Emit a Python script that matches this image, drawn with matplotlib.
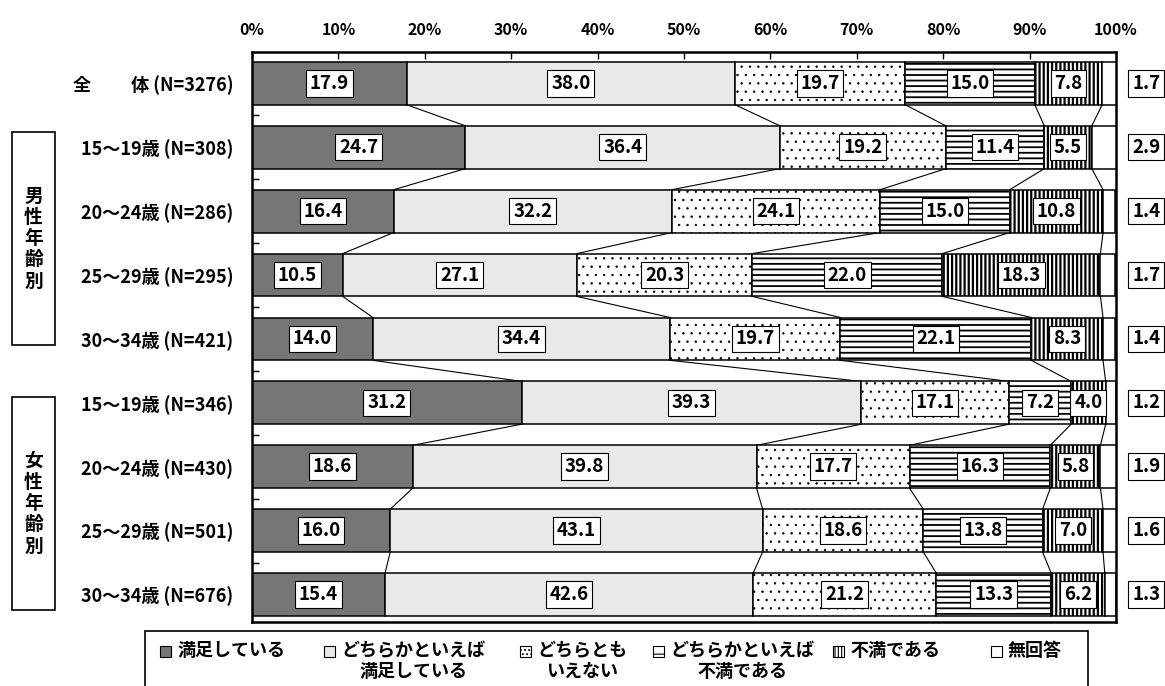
import matplotlib
matplotlib.use("Agg")
import matplotlib.pyplot as plt
from matplotlib.patches import Rectangle
import numpy as np

plt.rcParams['font.family'] = ['Noto Sans CJK JP', 'DejaVu Sans']
plt.rcParams['font.weight'] = 'bold'
plt.rcParams['hatch.linewidth'] = 1.2

# Survey groups (top to bottom)
groups = [
    "全　　 体 (N=3276)",
    "15～19歳 (N=308)",
    "20～24歳 (N=286)",
    "25～29歳 (N=295)",
    "30～34歳 (N=421)",
    "15～19歳 (N=346)",
    "20～24歳 (N=430)",
    "25～29歳 (N=501)",
    "30～34歳 (N=676)",
]

answers = ["満足している", "どちらかといえば\n満足している", "どちらとも\nいえない",
           "どちらかといえば\n不満である", "不満である", "無回答"]

satisfied        = [17.9, 24.7, 16.4, 10.5, 14.0, 31.2, 18.6, 16.0, 15.4]
rather_satisfied = [38.0, 36.4, 32.2, 27.1, 34.4, 39.3, 39.8, 43.1, 42.6]
neutral          = [19.7, 19.2, 24.1, 20.3, 19.7, 17.1, 17.7, 18.6, 21.2]
rather_unsat     = [15.0, 11.4, 15.0, 22.0, 22.1, 7.2, 16.3, 13.8, 13.3]
unsatisfied      = [7.8, 5.5, 10.8, 18.3, 8.3, 4.0, 5.8, 7.0, 6.2]
no_answer        = [1.7, 2.9, 1.4, 1.7, 1.4, 1.2, 1.9, 1.6, 1.3]

xticks = [0, 10, 20, 30, 40, 50, 60, 70, 80, 90, 100]
xtick_labels = [f"{v}%" for v in xticks]

series = [satisfied, rather_satisfied, neutral, rather_unsat, unsatisfied, no_answer]
faces = ["#767676", "#e9e9e9", "white", "white", "white", "white"]
hatches = [None, None, "..", "---", "||||", None]
hatch_lw = [1.2, 1.2, 0.5, 1.3, 1.6, 1.2]
marker_hatches = [None, None, "....", "--", "|||||", None]

W, H = 1165, 686
fig = plt.figure(figsize=(W / 100, H / 100), dpi=100)


def fx(px):
    return px / W


def fy(py):
    return 1 - py / H


ax = fig.add_axes([fx(252), fy(622), fx(1116) - fx(252), fy(52) - fy(622)])

n = len(groups)
ypos = np.arange(n)
bar_h = 0.67
label_box = dict(boxstyle="square,pad=0.2", fc="white", ec="black", lw=0.8)

left = np.zeros(n)
bounds = []
for k, (vals, fc, ht, hlw) in enumerate(zip(series, faces, hatches, hatch_lw)):
    vals = np.array(vals)
    with plt.rc_context({'hatch.linewidth': hlw}):
        bars = ax.barh(ypos, vals, left=left, height=bar_h, color=fc, edgecolor="black",
                       linewidth=1.1, hatch=ht, zorder=2)
    for b in bars:
        if hasattr(b, "set_hatch_linewidth"):
            b.set_hatch_linewidth(hlw)
    for i in range(n):
        if k < 5:
            ax.text(left[i] + vals[i] / 2, ypos[i], f"{vals[i]:.1f}", ha="center",
                    va="center", fontsize=13.5, fontweight="bold", zorder=5, bbox=label_box)
        else:
            ax.text(103.5, ypos[i], f"{vals[i]:.1f}", ha="center", va="center",
                    fontsize=13.5, fontweight="bold", zorder=5, clip_on=False, bbox=label_box)
    left = left + vals
    bounds.append(left.copy())

# series lines joining the segment boundaries of neighbouring bars
for b in bounds[:5]:
    for i in range(n - 1):
        ax.plot([b[i], b[i + 1]], [ypos[i] + bar_h / 2, ypos[i + 1] - bar_h / 2],
                color="black", lw=0.8, zorder=1)

ax.set_xlim(0, 100)
ax.set_ylim(n - 1 + 0.43, -0.49)
ax.xaxis.set_ticks_position("top")
ax.set_xticks(xticks)
ax.set_xticklabels(xtick_labels, fontsize=11.5, fontweight="bold")
ax.tick_params(axis="x", direction="in", length=5, width=1, pad=10)
ax.set_yticks(ypos)
ax.set_yticklabels(groups, fontsize=13, fontweight="bold")
ax.tick_params(axis="y", which="major", length=0, pad=13.5)
ax.set_yticks(ypos[:-1] + 0.5, minor=True)
ax.tick_params(axis="y", which="minor", direction="in", length=5, width=1)
for s in ax.spines.values():
    s.set_linewidth(1.8)

# gender group boxes on the left
for top, bot, txt in [(132, 345, "男\n性\n年\n齢\n別"), (397, 610, "女\n性\n年\n齢\n別")]:
    fig.patches.append(Rectangle((fx(12), fy(bot)), fx(55) - fx(12), fy(top) - fy(bot),
                                 transform=fig.transFigure, fill=False, ec="black", lw=1.2))
    fig.text(fx(33.5), fy((top + bot) / 2), txt, ha="center", va="center",
             fontsize=13.5, fontweight="bold", linespacing=1.15)

# legend
fig.patches.append(Rectangle((fx(145), fy(700)), fx(1088) - fx(145), fy(631) - fy(700),
                             transform=fig.transFigure, fill=False, ec="black", lw=1.2))
marker_x = [160, 324, 520, 653, 833, 991]
for mx, lab, fc, mh in zip(marker_x, answers, faces, marker_hatches):
    with plt.rc_context({'hatch.linewidth': 0.8}):
        fig.patches.append(Rectangle((fx(mx), fy(657)), fx(11), 11 / H,
                                     transform=fig.transFigure, fc=fc, ec="black",
                                     lw=0.8, hatch=mh))
    fig.text(fx(mx + 17), fy(641), lab, ha="left", va="top", fontsize=13,
             fontweight="bold", multialignment="center", linespacing=1.15)

fig.savefig("out.png", dpi=100)
